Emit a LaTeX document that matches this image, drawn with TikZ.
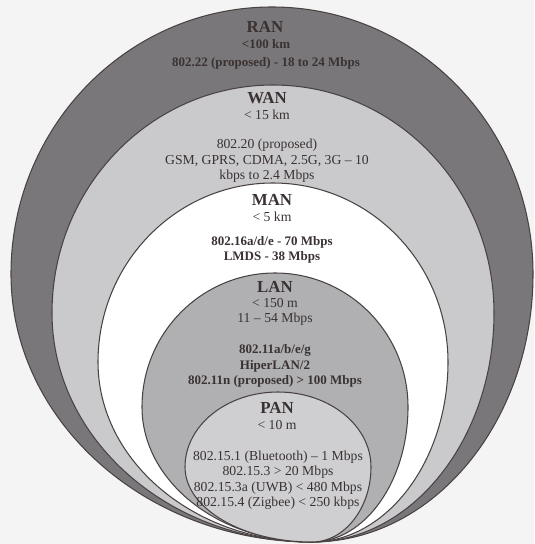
\documentclass[tikz,border=0pt]{standalone}
\usepackage{fontspec}
\setmainfont{Liberation Serif}
\usepackage{xcolor}
\definecolor{ranfill}{HTML}{7A777A}
\definecolor{wanfill}{HTML}{CACACC}
\definecolor{manfill}{HTML}{FFFFFF}
\definecolor{lanfill}{HTML}{B0B0B2}
\definecolor{panfill}{HTML}{CFCFD1}
\definecolor{rimgray}{HTML}{4A4242}
\definecolor{inkgray}{HTML}{3A3232}
\definecolor{paper}{HTML}{F4F4F4}

% one range zone: fill, centre x, centre y, x radius, y radius (all zones meet at the foot)
\newcommand{\netzone}[5]{%
  \filldraw[zone, fill=#1]
    ({#2-#4},#3) arc[start angle=180, end angle=360, x radius=#4, y radius=#5]
    .. controls ({#2+#4},{#3+0.55*(542-#3)}) and ({312+0.55*(#2+#4-312)},542) .. (312,542)
    .. controls ({312-0.55*(312-#2+#4)},542) and ({#2-#4},{#3+0.55*(542-#3)}) .. cycle;}

\begin{document}
\begin{tikzpicture}[
  x=0.02cm, y=-0.02cm,
  zone/.style={draw=rimgray, line width=0.6pt},
  zonetitle/.style={text=inkgray, font=\fontsize{9.6}{11}\selectfont\bfseries, inner sep=0pt},
  zoneinfo/.style={text=inkgray, font=\fontsize{7.8}{8.8}\selectfont, align=center, inner sep=0pt},
  zonebold/.style={zoneinfo, font=\fontsize{7.4}{8.8}\selectfont\bfseries}
]
  \fill[paper] (0,0) rectangle (534,544);

  \netzone{ranfill}{272}{274}{261}{267}
  \netzone{wanfill}{273}{313}{221}{228}
  \netzone{manfill}{273}{362}{175}{179}
  \netzone{lanfill}{275}{407}{133}{134}
  \netzone{panfill}{278}{467}{93}{75}

  % RAN
  \node[zonetitle] (ran) at (265,27) {RAN};
  \node[zonebold] (ran-range) at (266,44) {<100 km};
  \node[zonebold] (ran-std) at (266,63) {802.22 (proposed) - 18 to 24 Mbps};

  % WAN
  \node[zonetitle] (wan) at (267,98) {WAN};
  \node[zoneinfo] (wan-range) at (267,115) {< 15 km};
  \node[zoneinfo] (wan-std) at (267,161) {802.20 (proposed)\\GSM, GPRS, CDMA, 2.5G, 3G – 10\\kbps to 2.4 Mbps};

  % MAN
  \node[zonetitle] (man) at (272,200) {MAN};
  \node[zoneinfo] (man-range) at (272,217) {< 5 km};
  \node[zonebold] (man-std) at (272,250) {802.16a/d/e - 70 Mbps\\LMDS - 38 Mbps};

  % LAN
  \node[zonetitle] (lan) at (275,287) {LAN};
  \node[zoneinfo] (lan-range) at (275,312) {< 150 m\\11 – 54 Mbps};
  \node[zonebold] (lan-std) at (275,366) {802.11a/b/e/g\\HiperLAN/2\\802.11n (proposed) > 100 Mbps};

  % PAN
  \node[zonetitle] (pan) at (277,408) {PAN};
  \node[zoneinfo] (pan-range) at (277,425) {< 10 m};
  \node[zoneinfo] (pan-std) at (278,480) {802.15.1 (Bluetooth) – 1 Mbps\\802.15.3 > 20 Mbps\\802.15.3a (UWB) < 480 Mbps\\802.15.4 (Zigbee) < 250 kbps};
\end{tikzpicture}
\end{document}
